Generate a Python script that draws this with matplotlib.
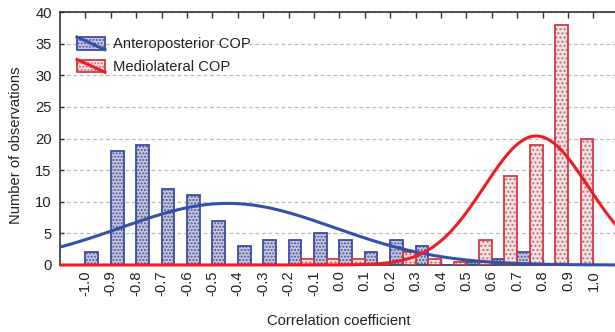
import numpy as np
import matplotlib
matplotlib.use("Agg")
import matplotlib.pyplot as plt
from matplotlib.legend_handler import HandlerBase
from matplotlib.patches import Rectangle
from matplotlib.lines import Line2D

# ---------------- data ----------------
categories = [-1.0, -0.9, -0.8, -0.7, -0.6, -0.5, -0.4, -0.3, -0.2, -0.1,
              0.0, 0.1, 0.2, 0.3, 0.4, 0.5, 0.6, 0.7, 0.8, 0.9, 1.0]
tick_labels = ["-1.0", "-0.9", "-0.8", "-0.7", "-0.6", "-0.5", "-0.4", "-0.3",
               "-0.2", "-0.1", "0.0", "0.1", "0.2", "0.3", "0.4", "0.5", "0.6",
               "0.7", "0.8", "0.9", "1.0"]
anteroposterior = [2, 18, 19, 12, 11, 7, 3, 4, 4, 5,
                   4, 2, 4, 3, 0, 0.5, 1, 2, 0, 0, 0]
mediolateral = [0, 0, 0, 0, 0, 0, 0, 0, 0, 1,
                1, 1, 0, 2, 1, 0.5, 4, 14, 19, 38, 20]
series_names = ["Anteroposterior COP", "Mediolateral COP"]

# fitted normal curves: n, mean, sd
ap_fit = (102.6, -0.44, 0.42)
ml_fit = (104.8, 0.775, 0.205)
bin_width = 0.1

# ---------------- style ----------------
plt.rcParams['font.family'] = ['Liberation Sans', 'DejaVu Sans']
FS = 10.6
TXT = '#222222'
blue_edge = '#3b4da3'
blue_face = '#c3c7e0'
blue_dot = '#4e5590'
blue_line = '#3550a8'
red_edge = '#d23a44'
red_face = '#f5e2e3'
red_dot = '#c06a75'
red_line = '#ee1c24'

fig = plt.figure(figsize=(6.15, 3.32), dpi=100)
ax = fig.add_axes([60 / 615, 67 / 332, 558.8 / 615, 253 / 332])
ax.set_xlim(-1.1, 1.1)
ax.set_ylim(0, 40)

bw = 0.05
# hatch layers
ax.bar(categories, anteroposterior, width=bw, align='edge', facecolor=blue_face,
       edgecolor=blue_dot, hatch='.....', linewidth=0, zorder=2)
ax.bar(categories, mediolateral, width=-bw, align='edge', facecolor=red_face,
       edgecolor=red_dot, hatch='....', linewidth=0, zorder=2)
# outlines
ax.bar(categories, anteroposterior, width=bw, align='edge', fill=False,
       edgecolor=blue_edge, linewidth=1.3, zorder=3)
ax.bar(categories, mediolateral, width=-bw, align='edge', fill=False,
       edgecolor=red_edge, linewidth=1.3, zorder=3)


def normal_curve(x, n, mu, sd):
    return n * bin_width / (sd * np.sqrt(2 * np.pi)) * np.exp(-0.5 * ((x - mu) / sd) ** 2)


xs = np.linspace(-1.1, 1.1, 600)
ax.plot(xs, normal_curve(xs, *ap_fit), color=blue_line, lw=2.2, zorder=4,
        clip_on=False, solid_capstyle='butt')
ax.plot(xs, normal_curve(xs, *ml_fit), color=red_line, lw=2.2, zorder=5,
        clip_on=False, solid_capstyle='butt')

# grid
ax.set_axisbelow(True)
ax.yaxis.grid(True, linestyle=(0, (3, 2.2)), color='#bdbdbd', lw=0.9)
ax.xaxis.grid(False)

# spines & ticks
for s in ['left', 'top', 'bottom']:
    ax.spines[s].set_color('#333333')
    ax.spines[s].set_linewidth(1.2)
ax.spines['right'].set_visible(False)

ax.set_xticks(categories)
ax.set_xticklabels(tick_labels, rotation=90, fontsize=FS, color=TXT)
ax.set_yticks(np.arange(0, 41, 5))
ax.set_yticklabels([str(v) for v in range(0, 41, 5)], fontsize=FS, color=TXT)
ax.tick_params(axis='x', direction='in', top=True, length=4, width=1.0,
               pad=4, colors='#333333', labelcolor=TXT)
ax.tick_params(axis='y', direction='in', length=3, width=1.0, pad=6,
               colors='#333333', labelcolor=TXT)

fig.text(16 / 615, 1 - 145 / 332, "Number of observations", rotation=90,
         ha='center', va='center', fontsize=FS, color=TXT)
fig.text(339 / 615, 1 - 321 / 332, "Correlation coefficient",
         ha='center', va='center', fontsize=FS, color=TXT)


# legend with diagonal line over hatched patch
class PatchLineHandler(HandlerBase):
    def __init__(self, face, dot, edge, line):
        super().__init__()
        self.face, self.dot, self.edge, self.line = face, dot, edge, line

    def create_artists(self, legend, orig_handle, xdescent, ydescent, width,
                       height, fontsize, trans):
        x0, y0 = -xdescent, -ydescent
        p1 = Rectangle((x0, y0), width, height, facecolor=self.face,
                       edgecolor=self.dot, hatch='.....', linewidth=0,
                       transform=trans)
        p2 = Rectangle((x0, y0), width, height, fill=False,
                       edgecolor=self.edge, linewidth=1.3, transform=trans)
        ln = Line2D([x0, x0 + width], [y0 + height, y0], color=self.line,
                    lw=2.2, transform=trans)
        return [p1, p2, ln]


h_ap = Rectangle((0, 0), 1, 1)
h_ml = Rectangle((0, 0), 1, 1)
leg = ax.legend([h_ap, h_ml], series_names, loc='upper left',
                bbox_to_anchor=(17 / 558.8, 1 - 25 / 253), frameon=False,
                fontsize=FS, handlelength=1.9, handleheight=0.95,
                handletextpad=0.55, labelspacing=0.55, borderpad=0,
                borderaxespad=0,
                handler_map={h_ap: PatchLineHandler(blue_face, blue_dot, blue_edge, blue_line),
                             h_ml: PatchLineHandler(red_face, red_dot, red_edge, red_line)})
for t in leg.get_texts():
    t.set_color(TXT)

fig.savefig("out.png", dpi=100)
